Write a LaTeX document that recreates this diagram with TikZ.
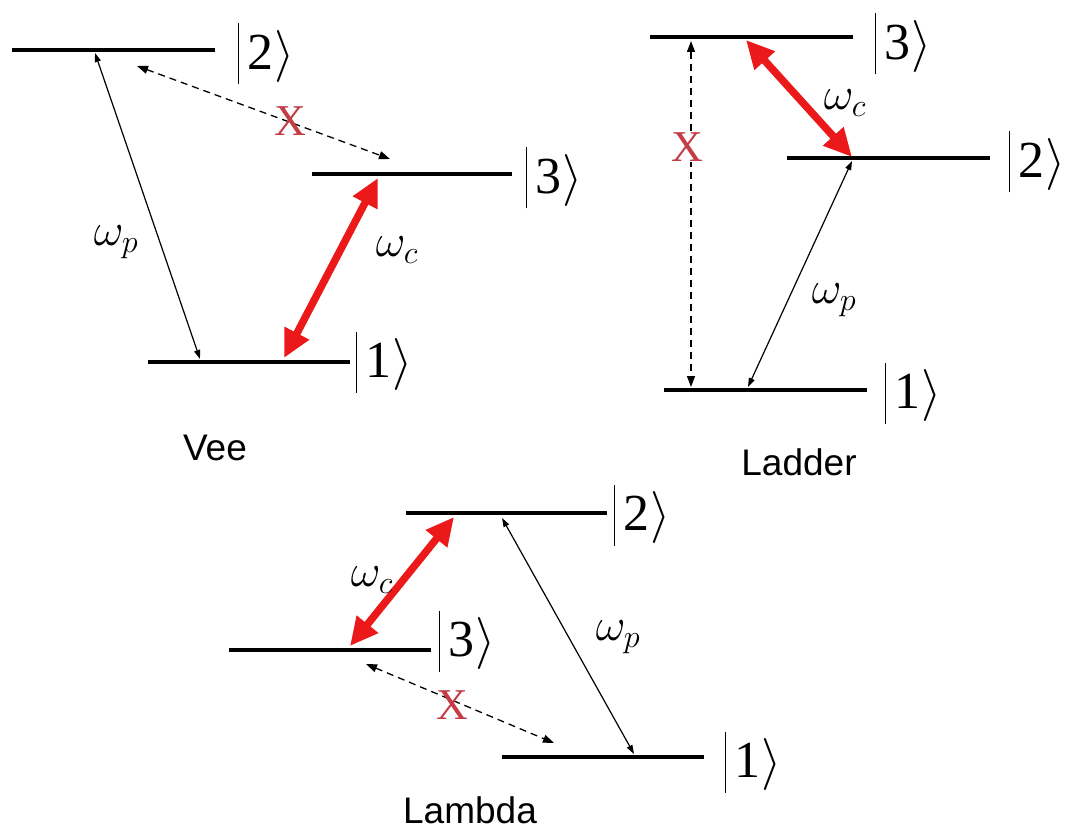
\documentclass[tikz,border=0pt]{standalone}
\usepackage{fix-cm}
\usepackage{fontspec}
\setmainfont{Liberation Serif}
\setsansfont{Liberation Sans}
\usetikzlibrary{arrows.meta}
\definecolor{arrred}{RGB}{235,25,25}
\definecolor{xred}{RGB}{195,60,70}
\newcommand{\myket}[1]{\vrule width 1.4pt height 46pt depth 15pt\hspace{9pt}#1\hspace{-1pt}$\left.\vrule height 46pt depth 15pt width 0pt\right\rangle$}
\tikzset{
  lvl/.style={line width=4.5pt},
  ketlabel/.style={inner sep=0pt,font=\fontsize{52}{56}\selectfont},
  pumparrow/.style={line width=1.2pt,{Triangle[length=9pt,width=6pt]}-{Triangle[length=9pt,width=6pt]}},
  couplearrow/.style={line width=7.5pt,draw=arrred,{Triangle[length=28pt,width=26pt]}-{Triangle[length=28pt,width=26pt]}},
  forbarrow/.style={line width=1.3pt,dash pattern=on 7pt off 5pt,{Triangle[length=11pt,width=8pt]}-{Triangle[length=11pt,width=8pt]}},
  freq/.style={inner sep=0pt,font=\fontsize{46}{50}\selectfont},
  xmark/.style={inner sep=0pt,text=xred,font=\fontsize{44}{48}\selectfont},
  schemename/.style={inner sep=0pt,font=\sffamily\fontsize{37}{42}\selectfont},
}
\begin{document}
\begin{tikzpicture}[x=1pt,y=-1pt]
\useasboundingbox (0,0) rectangle (1066,837);
\fill[white] (0,0) rectangle (1066,837);
\clip (0,0) rectangle (1066,837);

% ---------------- Vee ----------------
\coordinate (v2l) at (12,50);  \coordinate (v2r) at (215,50);
\coordinate (v3l) at (312,174); \coordinate (v3r) at (512,174);
\coordinate (v1l) at (148,362); \coordinate (v1r) at (350,362);
\draw[lvl] (v2l) -- (v2r);
\draw[lvl] (v3l) -- (v3r);
\draw[lvl] (v1l) -- (v1r);
\node[ketlabel] (kv2) at (266,54) {\myket{2}};
\node[ketlabel] (kv3) at (554,178) {\myket{3}};
\node[ketlabel] (kv1) at (384,362) {\myket{1}};
\coordinate (vpa) at (95,53);   \coordinate (vpb) at (200,359);
\coordinate (vca) at (378,178); \coordinate (vcb) at (284,358);
\coordinate (vfa) at (137,66);  \coordinate (vfb) at (390,159);
\draw[pumparrow] (vpa) -- (vpb);
\draw[couplearrow] (vca) -- (vcb);
\draw[forbarrow] (vfa) -- (vfb);
\node[freq] (vwp) at (116,242) {$\omega_p$};
\node[freq] (vwc) at (397,250) {$\omega_c$};
\node[xmark] (vx) at (290,121) {X};
\node[schemename] (vname) at (215,448) {Vee};

% ---------------- Ladder ----------------
\coordinate (l3l) at (650,37);  \coordinate (l3r) at (853,37);
\coordinate (l2l) at (787,158); \coordinate (l2r) at (990,158);
\coordinate (l1l) at (664,390); \coordinate (l1r) at (867,390);
\draw[lvl] (l3l) -- (l3r);
\draw[lvl] (l2l) -- (l2r);
\draw[lvl] (l1l) -- (l1r);
\node[ketlabel] (kl3) at (903,44) {\myket{3}};
\node[ketlabel] (kl2) at (1037,162) {\myket{2}};
\node[ketlabel] (kl1) at (913,393) {\myket{1}};
\coordinate (lfa) at (691,41);  \coordinate (lfb) at (691,387);
\coordinate (lca) at (746,40);  \coordinate (lcb) at (852,157);
\coordinate (lpa) at (852,161); \coordinate (lpb) at (748,387);
\draw[forbarrow] (lfa) -- (lfb);
\draw[couplearrow] (lca) -- (lcb);
\draw[pumparrow] (lpa) -- (lpb);
\node[xmark,fill=white,inner sep=1pt] (lx) at (687,147) {X};
\node[freq] (lwc) at (845,103) {$\omega_c$};
\node[freq] (lwp) at (834,300) {$\omega_p$};
\node[schemename] (lname) at (799,462) {Ladder};

% ---------------- Lambda ----------------
\coordinate (a2l) at (406,513); \coordinate (a2r) at (607,513);
\coordinate (a3l) at (229,650); \coordinate (a3r) at (431,650);
\coordinate (a1l) at (502,757); \coordinate (a1r) at (704,757);
\draw[lvl] (a2l) -- (a2r);
\draw[lvl] (a3l) -- (a3r);
\draw[lvl] (a1l) -- (a1r);
\node[ketlabel] (ka2) at (642,515) {\myket{2}};
\node[ketlabel] (ka3) at (467,641) {\myket{3}};
\node[ketlabel] (ka1) at (753,762) {\myket{1}};
\coordinate (aca) at (454,517); \coordinate (acb) at (350,646);
\coordinate (apa) at (502,518); \coordinate (apb) at (634,754);
\coordinate (afa) at (366,664); \coordinate (afb) at (554,743);
\draw[couplearrow] (aca) -- (acb);
\draw[pumparrow] (apa) -- (apb);
\draw[forbarrow] (afa) -- (afb);
\node[freq] (awc) at (372,580) {$\omega_c$};
\node[freq] (awp) at (618,637) {$\omega_p$};
\node[xmark] (ax) at (452,705) {X};
\node[schemename] (aname) at (470,810) {Lambda};
\end{tikzpicture}
\end{document}
